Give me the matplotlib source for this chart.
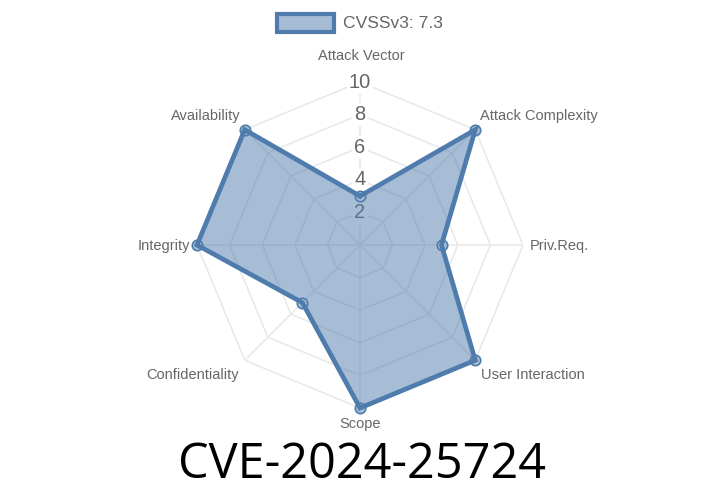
import numpy as np
import matplotlib
matplotlib.use("Agg")
import matplotlib.pyplot as plt
from matplotlib.patches import Rectangle

# clockwise from the top, as on the chart
labels = ["Attack Vector", "Attack Complexity", "Priv.Req.", "User Interaction",
          "Scope", "Confidentiality", "Integrity", "Availability"]
values = [3, 10, 5, 10, 10, 5, 10, 10]
rings = [2, 4, 6, 8, 10]
legend_label = "CVSSv3: 7.3"
title = "CVE-2024-25724"

BLUE = "#4f7cac"
FILL = "#a7bdd5"
GRID = "#e8e8e8"
TEXT = "#666666"
W, H = 720, 504
CX, CY, R = 360, 245, 163

plt.rcParams["font.family"] = ["Liberation Sans", "DejaVu Sans"]

fig = plt.figure(figsize=(W / 100, H / 100), dpi=100)
ax = fig.add_axes([(CX - R) / W, 1 - (CY + R) / H, 2 * R / W, 2 * R / H], projection="polar")
ax.set_theta_zero_location("N")
ax.set_theta_direction(-1)
ax.set_ylim(0, 10)
ax.axis("off")

theta = np.linspace(0, 2 * np.pi, len(labels), endpoint=False)
closed = np.append(theta, theta[0])
vals = np.array(values + values[:1], dtype=float)

# grid and ring numbers go under the see-through fill
for r in rings:
    ax.plot(closed, np.full(len(closed), r), color=GRID, lw=1.1, zorder=1)
for t in theta:
    ax.plot([t, t], [0, 10], color=GRID, lw=1.1, zorder=1)
for r in rings:
    ax.text(0, r, str(r), ha="center", va="center", fontsize=14.4, color=TEXT, zorder=1.5,
            bbox=dict(fc="white", ec="none", pad=1.5))
ax.fill(closed, vals, color=BLUE, alpha=0.5, lw=0, zorder=2)
ax.plot(theta, values, "o", ms=7.5, mfc=FILL, mec=BLUE, mew=1.2, zorder=3, clip_on=False)
ax.plot(closed, vals, color=BLUE, lw=3.4, zorder=4, solid_joinstyle="miter", clip_on=False)

# axis labels, offsets in pixels from the outer point
offsets = [(1, 26, "center"), (5, 14, "left"), (7, -1, "left"), (6, -15, "left"),
           (0, -16, "center"), (-6, -15, "right"), (-7, -1, "right"), (-4, 14, "right")]
for t, lab, (dx, dy, ha) in zip(theta, labels, offsets):
    ax.annotate(lab, (t, 10), xytext=(dx * 0.72, dy * 0.72), textcoords="offset points",
                ha=ha, va="center", fontsize=10.5, color=TEXT, annotation_clip=False)

# legend drawn by hand to get the thick swatch
fig.add_artist(Rectangle((277 / W, 1 - 32 / H), 57 / W, 18 / H, transform=fig.transFigure,
                         fc=FILL, ec=BLUE, lw=3))
fig.text(343 / W, 1 - 23 / H, legend_label, ha="left", va="center", fontsize=12.6, color=TEXT)

fig.text(362 / W, 1 - 465 / H, title, ha="center", va="center", fontsize=35,
         color="#000000", family=["Open Sans", "DejaVu Sans"])

fig.savefig("out.png", dpi=100)
